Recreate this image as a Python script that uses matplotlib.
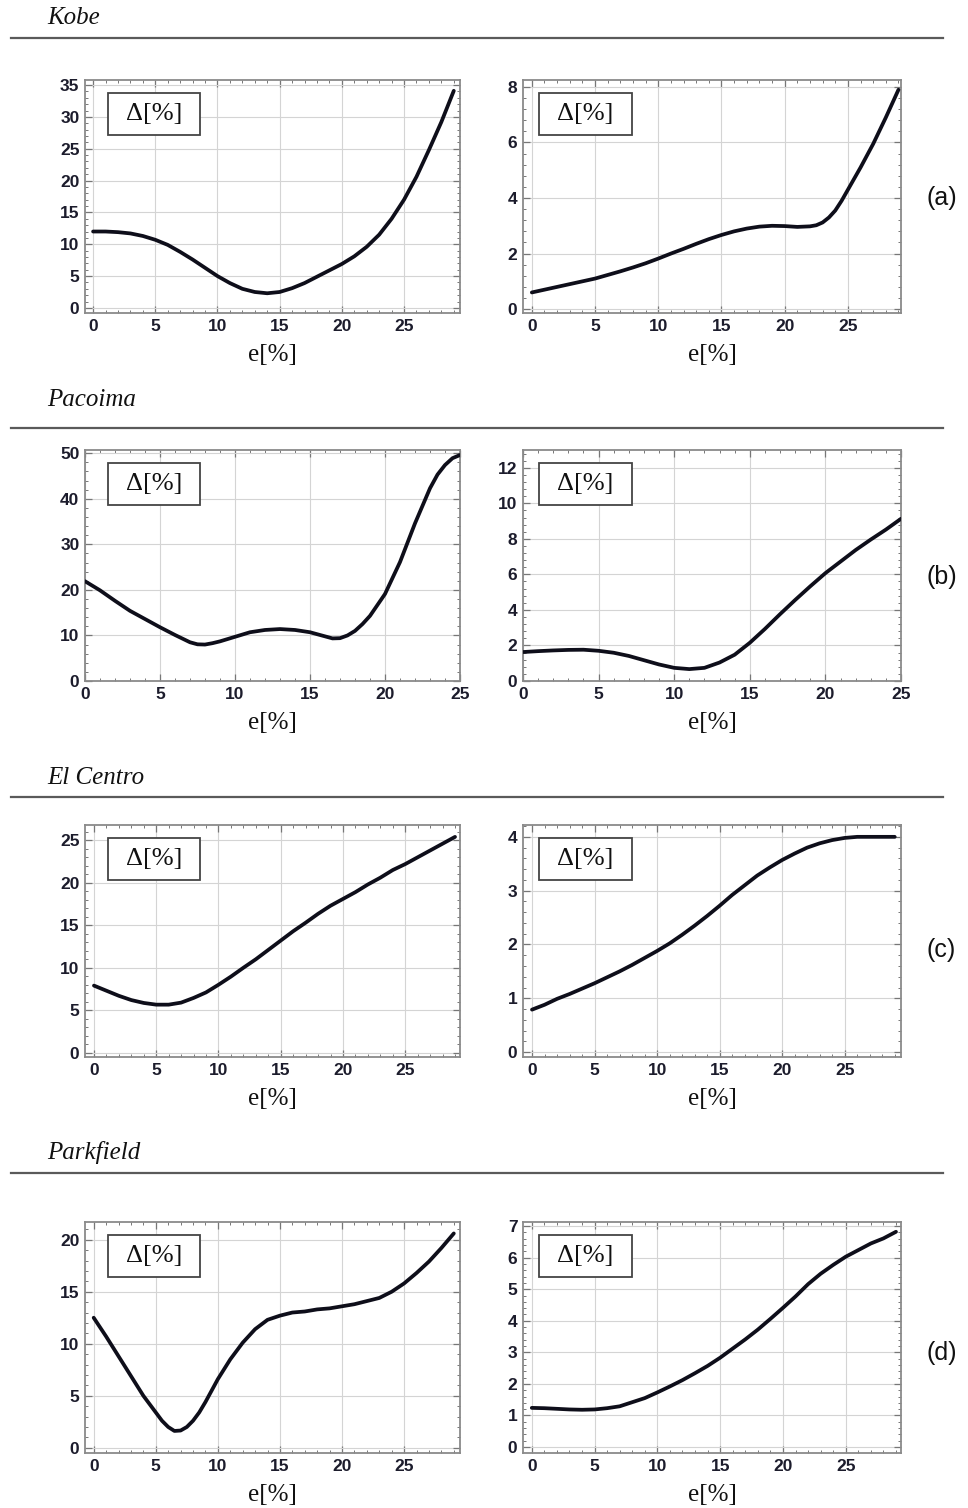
import numpy as np
import matplotlib
matplotlib.use("Agg")
import matplotlib.pyplot as plt
from matplotlib.ticker import MultipleLocator
from matplotlib.lines import Line2D
from matplotlib.patches import Rectangle

# eccentricity e[%]
e29 = list(range(0, 30))
e25 = list(range(0, 26))

# Kobe
kobe_left = [12.0, 12.0, 11.9, 11.7, 11.3, 10.7, 9.9, 8.8, 7.6, 6.3, 5.0, 3.9, 3.0, 2.5, 2.3,
             2.5, 3.1, 3.9, 4.9, 5.9, 6.9, 8.1, 9.6, 11.5, 14.0, 17.0, 20.6, 24.8, 29.2, 34.1]
kobe_right_e = [0, 1, 2, 3, 4, 5, 6, 7, 8, 9, 10, 11, 12, 13, 14, 15, 16, 17, 18, 19, 20, 21, 22,
                22.5, 23, 23.5, 24, 24.5, 25, 26, 27, 28, 29]
kobe_right = [0.6, 0.7, 0.8, 0.9, 1.0, 1.1, 1.23, 1.36, 1.5, 1.65, 1.82, 2.0, 2.17, 2.35, 2.52,
              2.67, 2.8, 2.9, 2.97, 3.0, 2.99, 2.96, 2.98, 3.02, 3.12, 3.3, 3.55, 3.9, 4.3,
              5.1, 5.95, 6.9, 7.9]
# Pacoima
pacoima_left_e = [0, 1, 2, 3, 4, 5, 6, 6.5, 7, 7.5, 8, 8.5, 9, 10, 11, 12, 13, 14, 15, 16, 16.5,
                  17, 17.5, 18, 18.5, 19, 20, 21, 22, 23, 23.5, 24, 24.5, 25]
pacoima_left = [21.9, 19.9, 17.6, 15.4, 13.6, 11.8, 10.1, 9.3, 8.5, 8.05, 8.0, 8.3, 8.7, 9.7, 10.7,
                11.2, 11.4, 11.2, 10.7, 9.8, 9.35, 9.4, 10.0, 11.0, 12.5, 14.3, 19.1, 26.1, 34.6,
                42.3, 45.3, 47.4, 48.9, 49.6]
pacoima_right = [1.63, 1.68, 1.72, 1.75, 1.76, 1.70, 1.59, 1.41, 1.17, 0.93, 0.74, 0.67, 0.74,
                 1.04, 1.48, 2.15, 2.93, 3.76, 4.56, 5.33, 6.07, 6.72, 7.37, 7.96, 8.52, 9.13]
# El Centro
elcentro_left = [7.9, 7.3, 6.7, 6.2, 5.86, 5.66, 5.66, 5.9, 6.45, 7.1, 8.0, 8.96, 10.0, 11.0, 12.1,
                 13.2, 14.3, 15.3, 16.35, 17.3, 18.1, 18.9, 19.8, 20.6, 21.5, 22.2, 23.0, 23.8, 24.6, 25.4]
elcentro_right = [0.79, 0.88, 0.99, 1.08, 1.18, 1.28, 1.39, 1.5, 1.62, 1.75, 1.88, 2.02, 2.18, 2.35,
                  2.53, 2.72, 2.92, 3.1, 3.28, 3.43, 3.57, 3.69, 3.8, 3.88, 3.94, 3.98, 4.0, 4.0, 4.0, 4.0]
# Parkfield
parkfield_left_e = [0, 1, 2, 3, 4, 5, 5.5, 6, 6.5, 7, 7.5, 8, 8.5, 9, 9.5, 10, 11, 12, 13, 14, 15,
                    16, 17, 18, 19, 20, 21, 22, 23, 24, 25, 26, 27, 28, 29]
parkfield_left = [12.5, 10.7, 8.8, 6.9, 5.0, 3.4, 2.6, 2.0, 1.62, 1.66, 2.0, 2.6, 3.4, 4.4, 5.5,
                  6.6, 8.5, 10.1, 11.4, 12.3, 12.7, 13.0, 13.1, 13.3, 13.4, 13.6, 13.8, 14.1, 14.4,
                  15.0, 15.8, 16.8, 17.9, 19.2, 20.6]
parkfield_right = [1.24, 1.23, 1.21, 1.19, 1.18, 1.19, 1.23, 1.29, 1.42, 1.55, 1.73, 1.92, 2.12, 2.34,
                   2.57, 2.83, 3.12, 3.41, 3.72, 4.06, 4.41, 4.77, 5.16, 5.49, 5.77, 6.03, 6.24, 6.45, 6.61, 6.82]

titles = ["Kobe", "Pacoima", "El Centro", "Parkfield"]
tags = ["(a)", "(b)", "(c)", "(d)"]

W, H = 968, 1508
fig = plt.figure(figsize=(W / 100, H / 100), dpi=100)

def fx(px):
    return px / W

def fy(py):
    return 1 - py / H

# pixel layout: (top, bottom) of each row of axes
rows = [(80, 313), (450, 681), (825, 1057), (1222, 1453)]
cols = [(85, 460), (523, 901)]
title_y = [18, 400, 778, 1153]
rule_y = [38, 428, 797, 1173]
tag_y = [198, 577, 950, 1353]

panels = [
    [(e29, kobe_left, (-0.65, 29.5), (-0.8, 35.8), 5),
     (kobe_right_e, kobe_right, (-0.7, 29.2), (-0.14, 8.25), 2)],
    [(pacoima_left_e, pacoima_left, (0, 25), (0, 50.7), 10),
     (e25, pacoima_right, (0, 25), (0, 13), 2)],
    [(e29, elcentro_left, (-0.72, 29.4), (-0.5, 26.8), 5),
     (e29, elcentro_right, (-0.72, 29.5), (-0.09, 4.22), 1)],
    [(parkfield_left_e, parkfield_left, (-0.7, 29.5), (-0.5, 21.7), 5),
     (e29, parkfield_right, (-0.7, 29.4), (-0.19, 7.13), 1)],
]

tick_color = "#1c1c2c"
box_x = [0.06, 0.042]

for r, (top, bot) in enumerate(rows):
    for c, (left, right) in enumerate(cols):
        x, y, xl, yl, ystep = panels[r][c]
        ax = fig.add_axes([fx(left), fy(bot), (right - left) / W, (bot - top) / H])
        ax.plot(x, y, color="#0e0e1a", lw=2.7, solid_joinstyle="round", solid_capstyle="round", zorder=3)
        ax.set_xlim(xl)
        ax.set_ylim(yl)
        ax.xaxis.set_major_locator(MultipleLocator(5))
        ax.xaxis.set_minor_locator(MultipleLocator(1))
        ax.yaxis.set_major_locator(MultipleLocator(ystep))
        ax.yaxis.set_minor_locator(MultipleLocator(ystep / 5))
        ax.grid(True, which="major", color="#d4d4d4", lw=0.8)
        ax.tick_params(which="both", direction="in", top=True, right=True,
                       colors="#777777", labelcolor=tick_color)
        ax.tick_params(which="major", length=5, width=0.9, labelsize=12.5, pad=4)
        ax.tick_params(which="minor", length=2.5, width=0.7)
        for lab in ax.get_xticklabels() + ax.get_yticklabels():
            lab.set_fontfamily("Liberation Sans")
            lab.set_fontweight("bold")
        for sp in ax.spines.values():
            sp.set_color("#8a8a8a")
            sp.set_linewidth(1.3)
        bx = box_x[c]
        ax.add_patch(Rectangle((bx, 0.763), 0.247, 0.182, transform=ax.transAxes,
                               fill=True, facecolor="white", edgecolor="#444444", lw=1.3, zorder=4))
        ax.text(bx + 0.1235, 0.854, "\u0394[%]", transform=ax.transAxes, ha="center", va="center",
                family="Liberation Serif", fontsize=19, color="#111111", zorder=5)
        fig.text(fx((left + right) / 2), fy(bot + 42), "e[%]", ha="center", va="center",
                 family="Liberation Serif", fontsize=18, color="#111111")

    fig.text(fx(47), fy(title_y[r]), titles[r], ha="left", va="center",
             family="Liberation Serif", style="italic", fontsize=18, color="#111111")
    fig.add_artist(Line2D([fx(11), fx(943)], [fy(rule_y[r]), fy(rule_y[r])],
                          color="#5a5a5a", lw=1.6))
    fig.text(fx(927), fy(tag_y[r]), tags[r], ha="left", va="center",
             family="Liberation Sans", fontsize=18, color="#111111")

fig.savefig("out.png", dpi=100)
